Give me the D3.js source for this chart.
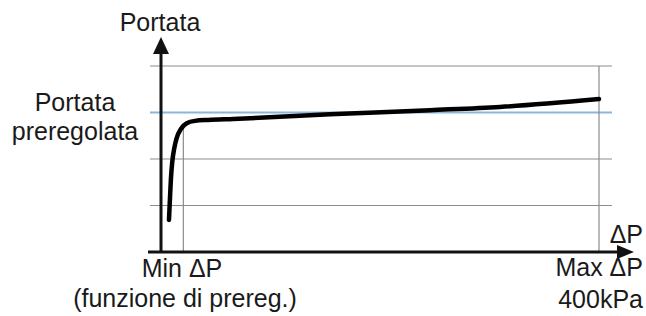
<!DOCTYPE html>
<html>
<head>
<meta charset="utf-8">
<script src="https://cdn.jsdelivr.net/npm/d3@7"></script>
<style>
  body { margin: 0; background: #fff; }
  svg text { font-family: "Liberation Sans", Arial, sans-serif; fill: #1a1a1a; }
</style>
</head>
<body>
<div id="chart"></div>
<script>
//----------DATA----------
// differential pressure (kPa) vs flow (arbitrary grid units)
var deltaP = [7.3, 8.2, 9.1, 10.3, 12.1, 14.3, 18.3, 23.5, 31.1, 43.2, 66, 154.3, 245.7, 309.6, 400];
var flow = [0.69, 1.16, 1.59, 1.94, 2.23, 2.45, 2.65, 2.77, 2.82, 2.84, 2.86, 2.96, 3.05, 3.12, 3.29];

var gridLevels = [1, 2, 4];
var presetFlow = 3;
var minDp = 20.4;
var minDpFlow = 2.7;
var maxDp = 400;

//----------SVG----------
var svgWidth = 646;
var svgHeight = 316;

var svg = d3.select('#chart')
    .append('svg')
    .attr('width', svgWidth)
    .attr('height', svgHeight);

// scales
var xScale = d3.scaleLinear()
    .domain([0, 400])
    .range([161, 599]);
var yScale = d3.scaleLinear()
    .domain([0, 4])
    .range([252, 66]);

//----------GRID----------
svg.selectAll('.grid')
    .data(gridLevels)
    .enter()
    .append('line')
    .attr('class', 'grid')
    .attr('x1', 150)
    .attr('x2', 612)
    .attr('y1', d => yScale(d))
    .attr('y2', d => yScale(d))
    .attr('stroke', '#8c8c8c')
    .attr('stroke-width', 1.2);

// preset flow line
svg.append('line')
    .attr('x1', 150)
    .attr('x2', 612)
    .attr('y1', yScale(presetFlow))
    .attr('y2', yScale(presetFlow))
    .attr('stroke', '#8db6da')
    .attr('stroke-width', 2);

// min and max dp markers
svg.append('line')
    .attr('x1', xScale(minDp))
    .attr('x2', xScale(minDp))
    .attr('y1', yScale(minDpFlow))
    .attr('y2', yScale(0))
    .attr('stroke', '#8c8c8c')
    .attr('stroke-width', 1.2);
svg.append('line')
    .attr('x1', xScale(maxDp))
    .attr('x2', xScale(maxDp))
    .attr('y1', yScale(4))
    .attr('y2', yScale(0))
    .attr('stroke', '#8c8c8c')
    .attr('stroke-width', 1.2);

//----------AXES----------
svg.append('line')
    .attr('x1', xScale(0))
    .attr('x2', xScale(0))
    .attr('y1', yScale(0) + 1)
    .attr('y2', 50)
    .attr('stroke', '#111')
    .attr('stroke-width', 3);
svg.append('path')
    .attr('d', `M${xScale(0)},37 L${xScale(0) - 8},54 L${xScale(0) + 8},54 Z`)
    .attr('fill', '#111');

svg.append('line')
    .attr('x1', 148)
    .attr('x2', 620)
    .attr('y1', yScale(0))
    .attr('y2', yScale(0))
    .attr('stroke', '#111')
    .attr('stroke-width', 3);
svg.append('path')
    .attr('d', `M634,${yScale(0)} L617,${yScale(0) - 7} L617,${yScale(0) + 7} Z`)
    .attr('fill', '#111');

//----------CURVE----------
var points = deltaP.map((d, i) => [d, flow[i]]);
var line = d3.line()
    .x(d => xScale(d[0]))
    .y(d => yScale(d[1]))
    .curve(d3.curveMonotoneX);

svg.append('path')
    .datum(points)
    .attr('d', line)
    .attr('fill', 'none')
    .attr('stroke', '#000')
    .attr('stroke-width', 4.5)
    .attr('stroke-linecap', 'round');

//----------LABELS----------
var fs = '25px';
svg.append('text').attr('x', 160).attr('y', 31).attr('text-anchor', 'middle')
    .style('font-size', fs).text('Portata');
svg.append('text').attr('x', 75).attr('y', 111).attr('text-anchor', 'middle')
    .style('font-size', fs).text('Portata');
svg.append('text').attr('x', 75).attr('y', 140).attr('text-anchor', 'middle')
    .style('font-size', fs).text('preregolata');

svg.append('text').attr('x', 182).attr('y', 277).attr('text-anchor', 'middle')
    .style('font-size', fs).text('Min ΔP');
svg.append('text').attr('x', 185).attr('y', 307).attr('text-anchor', 'middle')
    .style('font-size', fs).text('(funzione di prereg.)');

svg.append('text').attr('x', 643).attr('y', 243).attr('text-anchor', 'end')
    .style('font-size', fs).text('ΔP');
svg.append('text').attr('x', 643).attr('y', 276).attr('text-anchor', 'end')
    .style('font-size', fs).text('Max ΔP');
svg.append('text').attr('x', 643).attr('y', 308).attr('text-anchor', 'end')
    .style('font-size', fs).text('400kPa');
</script>
</body>
</html>
